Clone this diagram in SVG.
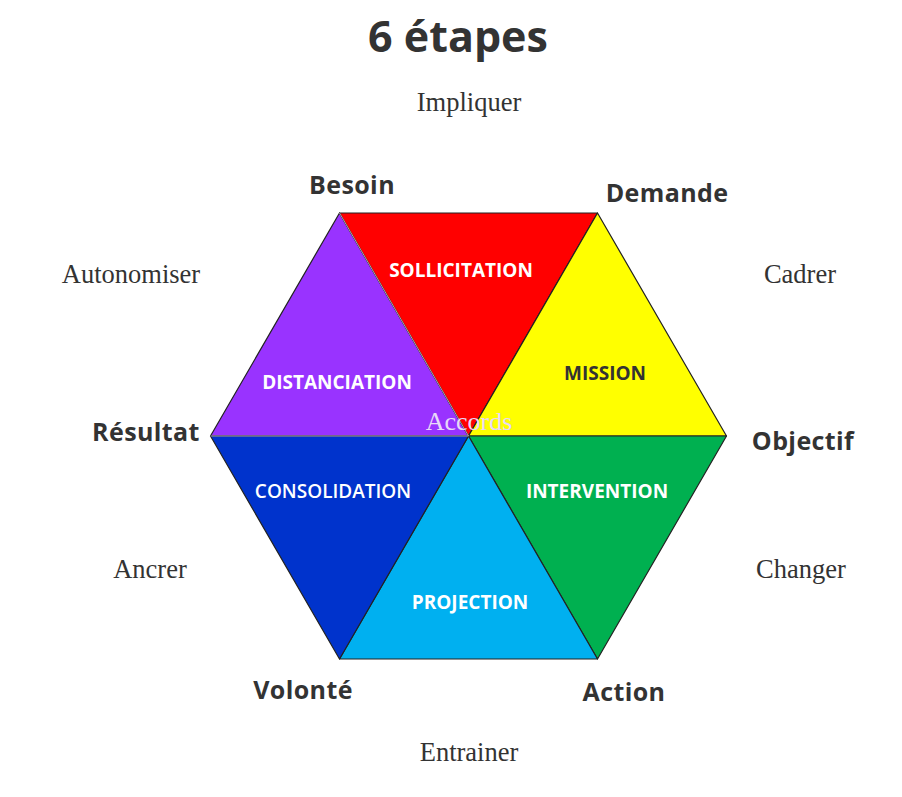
<svg xmlns="http://www.w3.org/2000/svg" width="902" height="797" viewBox="0 0 902 797">
<style>
.title{font-family:"Open Sans","Liberation Sans",sans-serif;font-weight:bold;font-size:43px;fill:#333;text-anchor:middle}
.vtx{font-family:"Open Sans","Liberation Sans",sans-serif;font-weight:bold;font-size:25px;letter-spacing:0.4px;fill:#333;text-anchor:middle}
.verb{font-family:"Liberation Serif",serif;font-size:26.5px;fill:#333;text-anchor:middle}
.inner{font-family:"Open Sans","Liberation Sans",sans-serif;font-weight:bold;font-size:19px;fill:#fff;text-anchor:middle}
.tri{stroke:#222;stroke-width:1.2;stroke-linejoin:round}
</style>
<rect width="902" height="797" fill="#fff"/>
<text class="title" x="458" y="52">6 étapes</text>
<g id="hexagon">
  <g id="distanciation"><polygon class="tri" fill="#9933FF" points="339.5,213 468.5,436 210.5,436"/><text class="inner" x="337" y="389">DISTANCIATION</text></g>
  <g id="sollicitation"><polygon class="tri" fill="#FF0000" points="339.5,213 597.5,213 468.5,436"/><text class="inner" x="461" y="277">SOLLICITATION</text></g>
  <g id="mission"><polygon class="tri" fill="#FFFF00" points="597.5,213 726.5,436 468.5,436"/><text class="inner" x="605" y="380" style="fill:#333">MISSION</text></g>
  <g id="intervention"><polygon class="tri" fill="#00B050" points="726.5,436 597.5,659 468.5,436"/><text class="inner" x="597" y="498">INTERVENTION</text></g>
  <g id="projection"><polygon class="tri" fill="#00B0F0" points="597.5,659 339.5,659 468.5,436"/><text class="inner" x="470" y="609">PROJECTION</text></g>
  <g id="consolidation"><polygon class="tri" fill="#0033CC" points="339.5,659 210.5,436 468.5,436"/><text class="inner" x="333" y="498" style="font-weight:600">CONSOLIDATION</text></g>
</g>
<g id="connectors">
  <line x1="339.5" y1="213" x2="468.5" y2="436" stroke="#fff" stroke-width="1" opacity="0.6"/>
  <line x1="210.5" y1="436" x2="468.5" y2="436" stroke="#fff" stroke-width="1" opacity="0.6"/>
</g>
<g id="accords"><text x="469" y="430" style="font-family:'Liberation Serif',serif;font-size:26px;fill:#E8D8F8;text-anchor:middle">Accords</text></g>
<g id="vertex-labels">
  <text class="vtx" x="352" y="194">Besoin</text>
  <text class="vtx" x="667" y="202">Demande</text>
  <text class="vtx" x="146" y="441">Résultat</text>
  <text class="vtx" x="803" y="450">Objectif</text>
  <text class="vtx" x="303" y="699">Volonté</text>
  <text class="vtx" x="624" y="701">Action</text>
</g>
<g id="verbs">
  <text class="verb" x="469" y="111">Impliquer</text>
  <text class="verb" x="131" y="283">Autonomiser</text>
  <text class="verb" x="800" y="283">Cadrer</text>
  <text class="verb" x="150" y="578">Ancrer</text>
  <text class="verb" x="801" y="578">Changer</text>
  <text class="verb" x="469" y="761">Entrainer</text>
</g>
</svg>
